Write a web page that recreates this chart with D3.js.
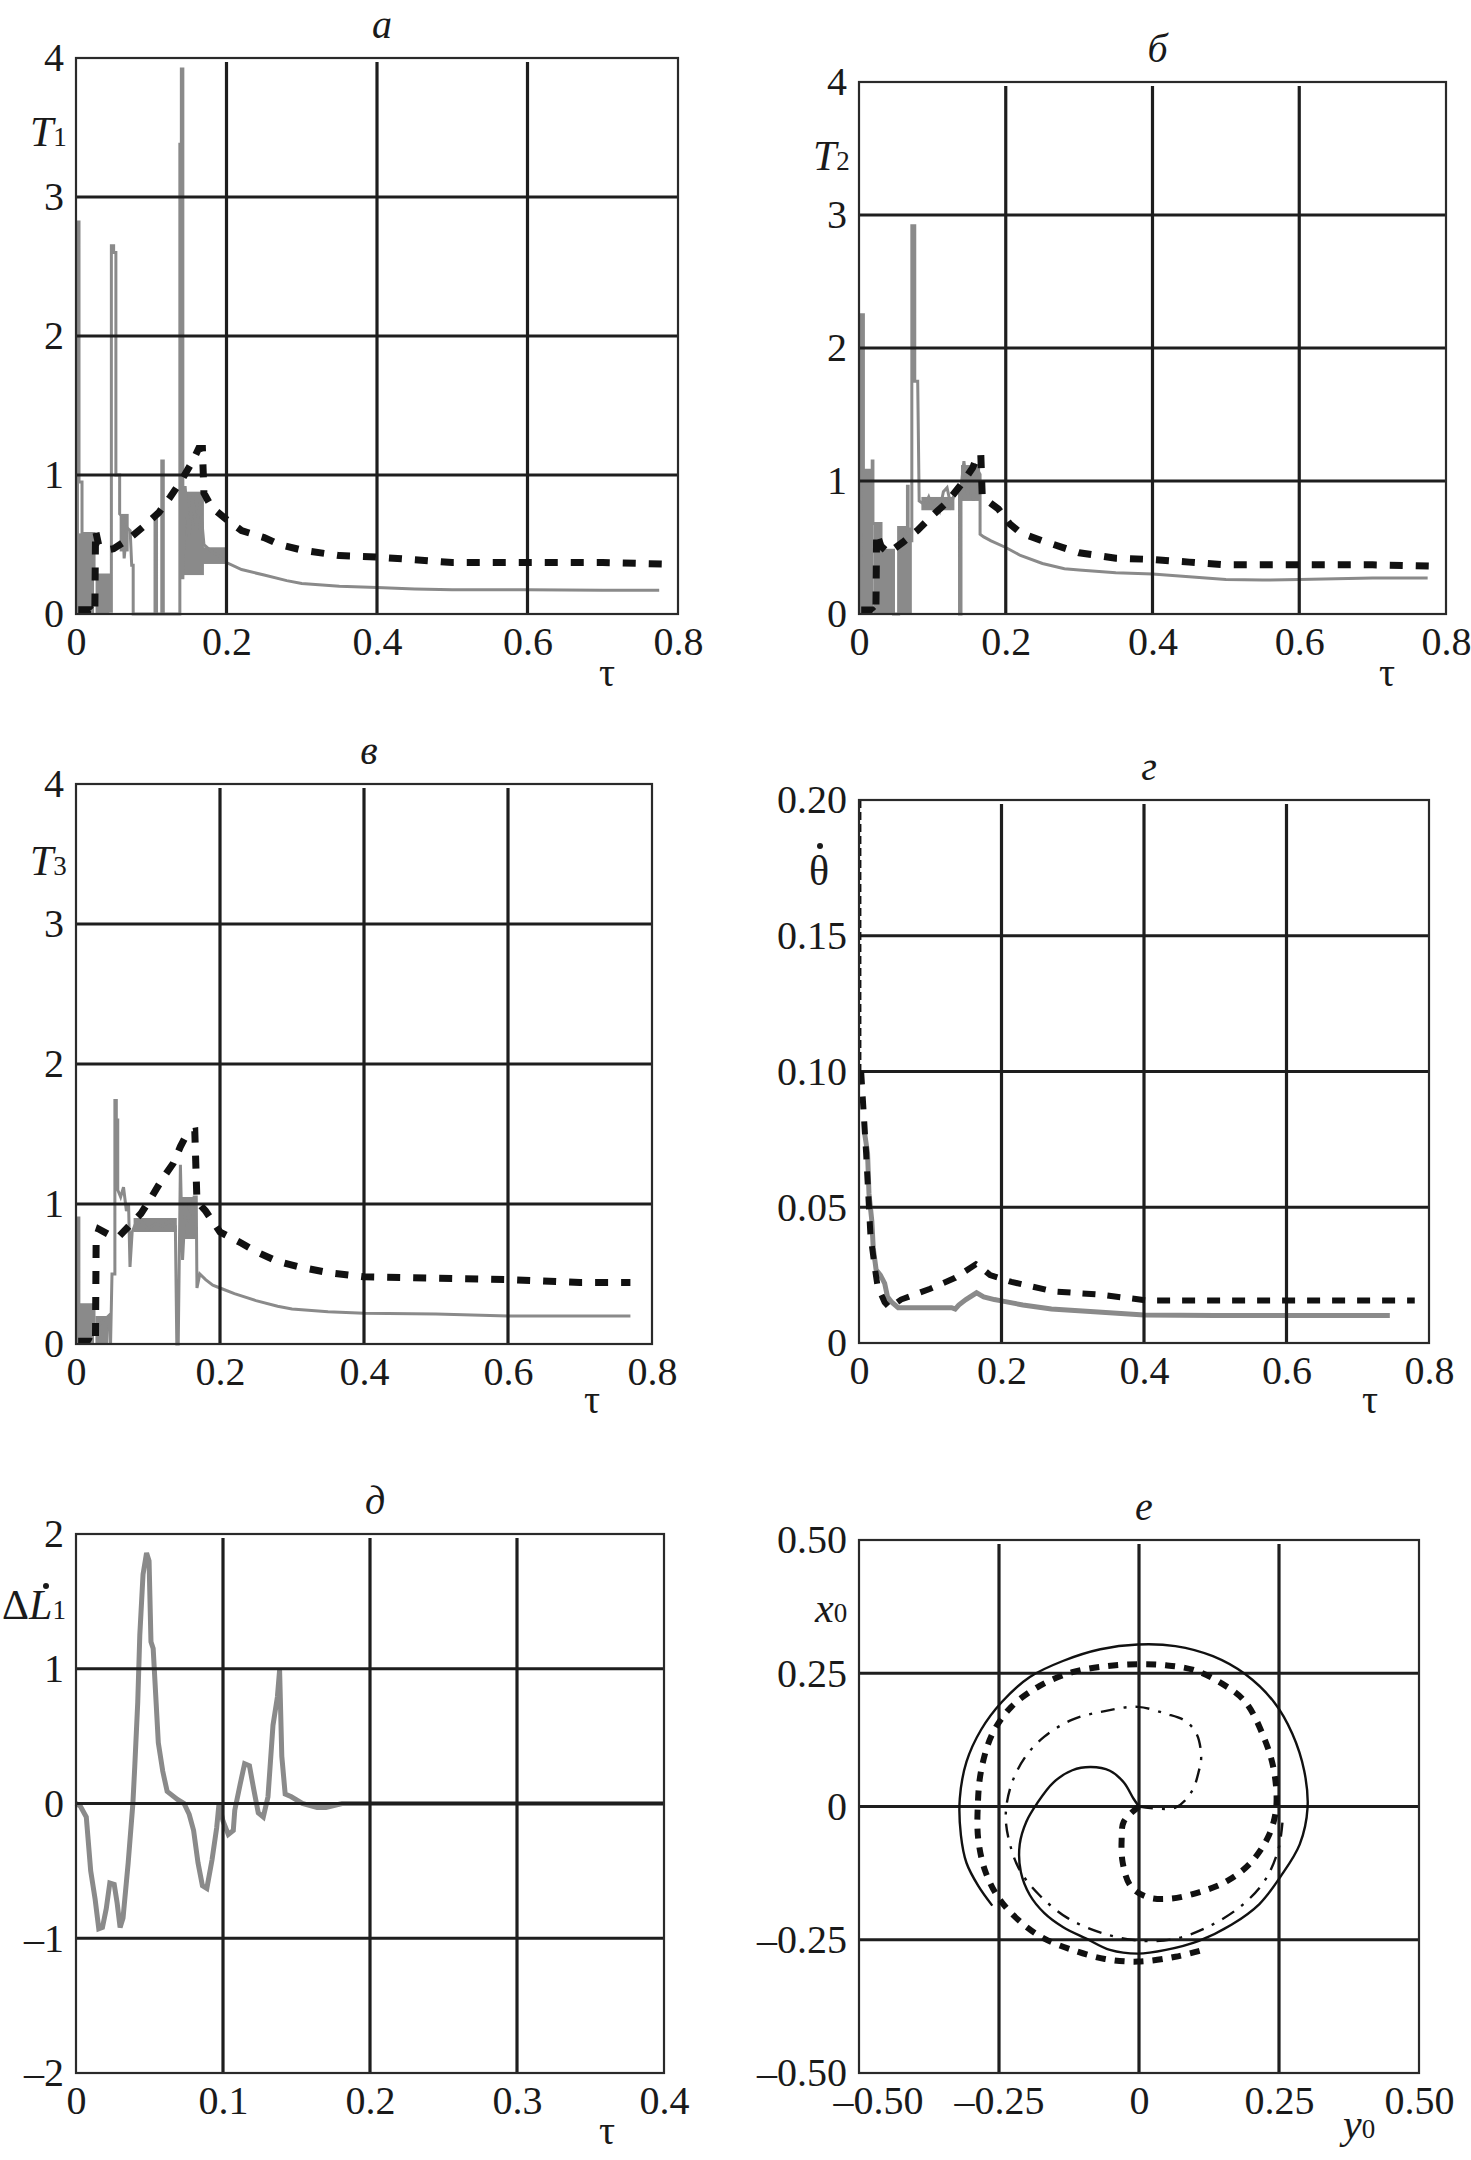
<!DOCTYPE html>
<html>
<head>
<meta charset="utf-8">
<style>
  body { margin: 0; background: #fff; }
  text { font-family: "Liberation Serif", "DejaVu Serif", serif; fill: #1a1a1a; }
</style>
</head>
<body>
<svg width="1471" height="2160"></svg>
<script src="https://d3js.org/d3.v7.min.js"></script>
<script>

// ---- data ----

var tauTicks = [0, 0.2, 0.4, 0.6, 0.8],
    tauTicksShort = [0, 0.1, 0.2, 0.3, 0.4],
    tTicks = [0, 1, 2, 3, 4],
    thetaTicks = [0, 0.05, 0.10, 0.15, 0.20],
    dlTicks = [-2, -1, 0, 1, 2],
    xyTicks = [-0.5, -0.25, 0, 0.25, 0.5];

// panel a : T1
var t1Gray = [[0.002,0],[0.002,2.82],[0.004,2.82],[0.004,0.95],[0.008,0.95],[0.008,0.58],[0.024,0.58],[0.024,0.28],[0.044,0.28],[0.044,0.02],[0.047,0.02],[0.047,2.65],[0.05,2.65],[0.05,2.6],[0.053,2.6],[0.053,1.0],[0.058,1.0],[0.058,0.72],[0.062,0.7],[0.064,0.4],[0.068,0.62],[0.072,0.6],[0.074,0.35],[0.076,0.35],[0.076,0],[0.105,0],[0.105,0.7],[0.107,0.7],[0.107,0],[0.114,0],[0.114,1.1],[0.116,1.1],[0.116,0],[0.138,0],[0.138,3.38],[0.14,3.38],[0.14,3.92],[0.142,3.92],[0.142,0.25],[0.145,0.92],[0.15,0.55],[0.155,0.85],[0.16,0.6],[0.165,0.8],[0.17,0.5],[0.18,0.45],[0.19,0.42],[0.2,0.37],[0.22,0.32],[0.25,0.28],[0.28,0.24],[0.3,0.22],[0.35,0.2],[0.4,0.19],[0.45,0.18],[0.5,0.175],[0.6,0.175],[0.7,0.17],[0.775,0.17]];
var t1Bands = [[0.001,0.024,0,0.58],[0.026,0.044,0,0.28],[0.058,0.07,0.45,0.72],[0.142,0.17,0.28,0.88],[0.168,0.2,0.36,0.48]];
var t1Dash = [[0.003,0.03],[0.02,0.03],[0.025,0],[0.026,0.6],[0.03,0.5],[0.04,0.46],[0.05,0.47],[0.07,0.54],[0.09,0.63],[0.11,0.73],[0.125,0.84],[0.14,0.96],[0.155,1.1],[0.163,1.19],[0.168,1.19],[0.17,0.87],[0.18,0.77],[0.2,0.68],[0.22,0.6],[0.25,0.55],[0.27,0.5],[0.3,0.46],[0.35,0.42],[0.4,0.41],[0.45,0.39],[0.5,0.37],[0.6,0.37],[0.7,0.37],[0.78,0.36]];

// panel b : T2
var t2Gray = [[0.003,0],[0.003,2.25],[0.006,2.25],[0.006,1.08],[0.018,1.08],[0.018,1.15],[0.019,1.15],[0.019,0.68],[0.03,0.68],[0.03,0.48],[0.047,0.48],[0.047,0],[0.054,0],[0.054,0.65],[0.066,0.65],[0.066,0.96],[0.067,0.96],[0.067,0.55],[0.072,0.55],[0.072,2.92],[0.076,2.92],[0.076,1.75],[0.08,1.75],[0.082,0.85],[0.09,0.82],[0.095,0.88],[0.1,0.8],[0.105,0.85],[0.11,0.78],[0.115,0.92],[0.12,0.95],[0.125,0.82],[0.13,0.9],[0.135,0.92],[0.137,0.9],[0.137,0],[0.139,0],[0.139,0.95],[0.143,1.15],[0.148,0.9],[0.152,1.1],[0.156,0.85],[0.16,1.1],[0.165,1.05],[0.165,0.6],[0.17,0.58],[0.18,0.55],[0.2,0.5],[0.22,0.44],[0.25,0.38],[0.28,0.34],[0.3,0.33],[0.35,0.31],[0.4,0.3],[0.45,0.28],[0.5,0.26],[0.55,0.255],[0.6,0.26],[0.7,0.27],[0.775,0.27]];
var t2Bands = [[0.001,0.02,0,1.08],[0.02,0.03,0,0.68],[0.03,0.047,0,0.48],[0.054,0.072,0,0.65],[0.085,0.13,0.78,0.88],[0.139,0.165,0.85,1.12]];
var t2Dash = [[0.003,0.03],[0.018,0.03],[0.023,0],[0.024,0.61],[0.03,0.51],[0.04,0.46],[0.06,0.54],[0.08,0.63],[0.1,0.74],[0.12,0.84],[0.14,0.98],[0.155,1.1],[0.162,1.2],[0.166,1.2],[0.168,0.88],[0.19,0.79],[0.205,0.68],[0.22,0.61],[0.25,0.55],[0.3,0.46],[0.35,0.42],[0.4,0.41],[0.45,0.39],[0.5,0.37],[0.6,0.37],[0.7,0.37],[0.78,0.36]];

// panel в : T3
var t3Gray = [[0.002,0],[0.002,0.9],[0.004,0.9],[0.004,0.28],[0.025,0.28],[0.025,0.1],[0.045,0.2],[0.048,0],[0.05,0.5],[0.054,0.5],[0.054,1.74],[0.056,1.74],[0.056,1.6],[0.058,1.6],[0.058,1.1],[0.062,1.05],[0.066,1.12],[0.07,0.95],[0.073,1.0],[0.075,0.55],[0.078,0.8],[0.082,0.85],[0.09,0.88],[0.1,0.82],[0.11,0.86],[0.12,0.84],[0.13,0.88],[0.138,0.84],[0.14,0],[0.142,0],[0.145,1.28],[0.148,0.6],[0.152,1.0],[0.156,0.9],[0.16,0.95],[0.164,1.05],[0.167,1.05],[0.168,0.4],[0.172,0.5],[0.18,0.46],[0.19,0.42],[0.2,0.4],[0.22,0.36],[0.25,0.31],[0.28,0.27],[0.3,0.25],[0.35,0.23],[0.4,0.22],[0.5,0.215],[0.6,0.2],[0.7,0.2],[0.77,0.2]];
var t3Bands = [[0.001,0.025,0,0.28],[0.027,0.045,0,0.2],[0.08,0.14,0.8,0.9],[0.145,0.168,0.75,1.05]];
var t3Dash = [[0.003,0.02],[0.02,0.02],[0.027,0],[0.028,0.76],[0.032,0.82],[0.05,0.77],[0.06,0.77],[0.075,0.85],[0.09,0.93],[0.105,1.05],[0.12,1.18],[0.135,1.29],[0.145,1.41],[0.155,1.51],[0.165,1.52],[0.168,1.02],[0.18,0.95],[0.2,0.8],[0.23,0.72],[0.25,0.66],[0.28,0.59],[0.31,0.55],[0.35,0.51],[0.4,0.48],[0.5,0.47],[0.6,0.46],[0.7,0.44],[0.77,0.44]];

// panel г : theta dot
var thGray = [[0.008,0.077],[0.012,0.07],[0.014,0.055],[0.018,0.045],[0.02,0.035],[0.024,0.027],[0.03,0.025],[0.036,0.022],[0.04,0.017],[0.046,0.015],[0.055,0.013],[0.1,0.013],[0.13,0.013],[0.135,0.0125],[0.14,0.014],[0.15,0.016],[0.165,0.0185],[0.175,0.017],[0.19,0.016],[0.2,0.0155],[0.23,0.014],[0.27,0.0125],[0.33,0.0115],[0.4,0.0103],[0.5,0.0101],[0.6,0.0101],[0.745,0.0101]];
var thDashTop = [[0.002,0.2],[0.002,0.1]];
var thDash = [[0.003,0.1],[0.01,0.07],[0.016,0.04],[0.022,0.028],[0.026,0.021],[0.036,0.015],[0.043,0.013],[0.059,0.016],[0.1,0.02],[0.135,0.024],[0.164,0.029],[0.175,0.027],[0.184,0.025],[0.214,0.0225],[0.273,0.019],[0.338,0.0178],[0.404,0.0157],[0.5,0.0157],[0.6,0.0157],[0.78,0.0157]];

// panel д : delta L1 dot
var dlGray = [[0,0],[0.003,-0.02],[0.007,-0.1],[0.01,-0.5],[0.013,-0.71],[0.0155,-0.93],[0.018,-0.92],[0.0206,-0.78],[0.023,-0.59],[0.026,-0.6],[0.028,-0.74],[0.03,-0.92],[0.032,-0.85],[0.0355,-0.44],[0.0387,0],[0.04,0.28],[0.042,0.75],[0.0434,1.25],[0.0456,1.7],[0.048,1.86],[0.0497,1.8],[0.051,1.2],[0.0525,1.15],[0.056,0.45],[0.059,0.24],[0.062,0.09],[0.069,0.03],[0.0735,0],[0.077,-0.08],[0.08,-0.2],[0.083,-0.44],[0.086,-0.61],[0.089,-0.63],[0.0925,-0.42],[0.0957,-0.18],[0.0973,0],[0.1,-0.13],[0.1036,-0.23],[0.107,-0.2],[0.108,-0.05],[0.1116,0.14],[0.1147,0.295],[0.118,0.28],[0.121,0.1],[0.124,-0.07],[0.1274,-0.1],[0.1306,0.05],[0.134,0.58],[0.137,0.79],[0.1385,0.99],[0.14,0.35],[0.1423,0.07],[0.1465,0.05],[0.154,0],[0.164,-0.03],[0.17,-0.03],[0.181,0],[0.4,0]];

// panel е : trajectories (y0, x0)
var orbitSolid = [[0,0],[-0.010,0.015],[-0.027,0.045],[-0.052,0.067],[-0.086,0.074],[-0.119,0.068],[-0.153,0.045],[-0.182,0.006],[-0.201,-0.028],[-0.213,-0.071],[-0.211,-0.123],[-0.195,-0.166],[-0.169,-0.200],[-0.136,-0.226],[-0.094,-0.248],[-0.052,-0.269],[-0.002,-0.276],[0.048,-0.269],[0.107,-0.252],[0.165,-0.222],[0.215,-0.183],[0.253,-0.131],[0.287,-0.071],[0.301,-0.002],[0.295,0.067],[0.274,0.136],[0.241,0.196],[0.190,0.248],[0.132,0.282],[0.065,0.301],[-0.002,0.304],[-0.069,0.295],[-0.136,0.273],[-0.195,0.243],[-0.245,0.196],[-0.282,0.144],[-0.308,0.084],[-0.320,0.015],[-0.318,-0.054],[-0.308,-0.106],[-0.287,-0.149],[-0.262,-0.186]];
var orbitDash = [[0,0],[-0.027,-0.028],[-0.031,-0.062],[-0.029,-0.106],[-0.015,-0.149],[0.015,-0.170],[0.056,-0.173],[0.107,-0.161],[0.157,-0.140],[0.199,-0.106],[0.232,-0.054],[0.245,-0.002],[0.241,0.067],[0.224,0.127],[0.190,0.196],[0.149,0.230],[0.098,0.256],[0.048,0.265],[-0.002,0.267],[-0.061,0.263],[-0.119,0.252],[-0.178,0.226],[-0.228,0.187],[-0.262,0.136],[-0.282,0.067],[-0.288,-0.002],[-0.287,-0.062],[-0.274,-0.123],[-0.249,-0.174],[-0.211,-0.217],[-0.169,-0.248],[-0.119,-0.269],[-0.061,-0.286],[-0.002,-0.291],[0.065,-0.282],[0.115,-0.269]];
var orbitDashDot = [[0,0],[0.065,-0.002],[0.094,0.028],[0.107,0.067],[0.111,0.093],[0.103,0.136],[0.082,0.161],[0.048,0.174],[-0.002,0.187],[-0.061,0.179],[-0.119,0.163],[-0.169,0.131],[-0.203,0.093],[-0.228,0.041],[-0.238,-0.019],[-0.228,-0.080],[-0.211,-0.123],[-0.178,-0.166],[-0.128,-0.209],[-0.061,-0.239],[0.006,-0.252],[0.065,-0.248],[0.123,-0.226],[0.182,-0.187],[0.224,-0.140],[0.249,-0.080],[0.257,-0.019]];

// ---- drawing ----

var svg = d3.select("svg"),
    GRAY = "#8a8a8a",
    INK = "#1e1e1e",
    FS = 40;

function fmtNum(d) {
  if (d === 0) return "0";
  var s = Math.abs(d).toString();
  return (d < 0 ? "\u2013" : "") + s;
}
function fmt2(d) {
  if (d === 0) return "0";
  return (d < 0 ? "\u2013" : "") + Math.abs(d).toFixed(2);
}

function panel(p) {
  var x = d3.scaleLinear().domain(p.xDomain).range([p.left, p.right]),
      y = d3.scaleLinear().domain(p.yDomain).range([p.bottom, p.top]),
      g = svg.append("g");

  var line = d3.line().x(function(d) { return x(d[0]); }).y(function(d) { return y(d[1]); });

  // noisy gray envelopes and curves
  (p.bands || []).forEach(function(b) {
    g.append("rect")
      .attr("x", x(b[0])).attr("width", x(b[1]) - x(b[0]))
      .attr("y", y(b[3])).attr("height", y(b[2]) - y(b[3]))
      .attr("fill", GRAY);
  });
  if (p.gray) {
    g.append("path").datum(p.gray).attr("d", line)
      .attr("fill", "none").attr("stroke", GRAY)
      .attr("stroke-width", p.grayWidth || 3).attr("stroke-linejoin", "miter");
  }

  // grid
  g.selectAll(".vg").data(p.xTicks.slice(1, -1)).enter().append("line")
    .attr("x1", function(d) { return x(d); }).attr("x2", function(d) { return x(d); })
    .attr("y1", p.top + 4).attr("y2", p.bottom)
    .attr("stroke", INK).attr("stroke-width", 3.2);
  g.selectAll(".hg").data(p.yTicks.slice(1, -1)).enter().append("line")
    .attr("x1", p.left).attr("x2", p.right)
    .attr("y1", function(d) { return y(d); }).attr("y2", function(d) { return y(d); })
    .attr("stroke", INK).attr("stroke-width", 2.8);

  // curves on top of grid
  (p.curves || []).forEach(function(c) {
    var l = d3.line().x(function(d) { return x(d[0]); }).y(function(d) { return y(d[1]); });
    if (c.smooth) l.curve(d3.curveCatmullRom.alpha(0.5));
    g.append("path").datum(c.data).attr("d", l)
      .attr("fill", "none").attr("stroke", c.color || "#111")
      .attr("stroke-width", c.width).attr("stroke-dasharray", c.dash || null);
  });

  // frame
  g.append("rect").attr("x", p.left).attr("y", p.top)
    .attr("width", p.right - p.left).attr("height", p.bottom - p.top)
    .attr("fill", "none").attr("stroke", "#2a2a2a").attr("stroke-width", 2.2);

  // axes (labels only)
  var ax = g.append("g").attr("transform", "translate(0," + p.bottom + ")")
    .call(d3.axisBottom(x).tickValues(p.xTicks).tickFormat(p.xFmt).tickSize(0).tickPadding(13));
  var ay = g.append("g").attr("transform", "translate(" + p.left + ",0)")
    .call(d3.axisLeft(y).tickValues(p.yTicks).tickFormat(p.yFmt).tickSize(0).tickPadding(12));
  [ax, ay].forEach(function(a) {
    a.select(".domain").remove();
    a.selectAll("text").attr("font-size", FS).attr("font-family", "Liberation Serif, serif").attr("fill", "#1a1a1a");
  });
  if (p.firstXStart) {
    // first x label sits to the right of the corner, clear of the y label
    ax.select(".tick text").attr("text-anchor", "start").attr("dx", -26);
  }

  // panel letter
  g.append("text").attr("x", (p.left + p.right) / 2 + 5).attr("y", p.top - 20)
    .attr("text-anchor", "middle").attr("font-size", 40).attr("font-style", "italic").text(p.title);

  return {x: x, y: y, g: g};
}

function tau(g, cx, by) {
  g.append("text").attr("x", cx).attr("y", by).attr("text-anchor", "middle")
    .attr("font-size", FS).text("\u03c4");
}
function subLabel(g, xx, by, main, sub, italic) {
  var t = g.append("text").attr("x", xx).attr("y", by).attr("font-size", 42);
  t.append("tspan").attr("font-style", italic ? "italic" : "normal").text(main);
  t.append("tspan").attr("font-size", 27).text(sub);
  return t;
}

var tFmt = function(d) { return d.toString(); };

// a
var pa = panel({title: "а", left: 76, right: 678, top: 58, bottom: 614,
  xDomain: [0, 0.8], yDomain: [0, 4], xTicks: tauTicks, yTicks: tTicks,
  xFmt: fmtNum, yFmt: tFmt, gray: t1Gray, bands: t1Bands,
  curves: [{data: t1Dash, width: 7, dash: "13,13"}]});
tau(pa.g, 607, 686);
subLabel(pa.g, 30, 146, "T", "1", true);

// b
var pb = panel({title: "б", left: 859, right: 1446, top: 82, bottom: 614,
  xDomain: [0, 0.8], yDomain: [0, 4], xTicks: tauTicks, yTicks: tTicks,
  xFmt: fmtNum, yFmt: tFmt, gray: t2Gray, bands: t2Bands,
  curves: [{data: t2Dash, width: 7, dash: "13,13"}]});
tau(pb.g, 1387, 686);
subLabel(pb.g, 813, 170, "T", "2", true);

// в
var pv = panel({title: "в", left: 76, right: 652, top: 784, bottom: 1344,
  xDomain: [0, 0.8], yDomain: [0, 4], xTicks: tauTicks, yTicks: tTicks,
  xFmt: fmtNum, yFmt: tFmt, gray: t3Gray, bands: t3Bands,
  curves: [{data: t3Dash, width: 7, dash: "13,13"}]});
tau(pv.g, 592, 1413);
subLabel(pv.g, 30, 875, "T", "3", true);

// г
var pg = panel({title: "г", left: 859, right: 1429, top: 800, bottom: 1343,
  xDomain: [0, 0.8], yDomain: [0, 0.2], xTicks: tauTicks, yTicks: thetaTicks,
  xFmt: fmtNum, yFmt: fmt2, gray: thGray, grayWidth: 5,
  curves: [{data: thDashTop, width: 2, dash: "8,4"}, {data: thDash, width: 6, dash: "13,12"}]});
tau(pg.g, 1370, 1413);
pg.g.append("text").attr("x", 819).attr("y", 885).attr("text-anchor", "middle")
  .attr("font-size", 42).text("\u03b8");
pg.g.append("circle").attr("cx", 820).attr("cy", 846).attr("r", 3).attr("fill", "#1a1a1a");

// д
var pd = panel({title: "д", left: 76, right: 664, top: 1534, bottom: 2073,
  xDomain: [0, 0.4], yDomain: [-2, 2], xTicks: tauTicksShort, yTicks: dlTicks,
  xFmt: fmtNum, yFmt: fmtNum, gray: dlGray, grayWidth: 5});
tau(pd.g, 607, 2144);
var dl = pd.g.append("text").attr("x", 2).attr("y", 1619).attr("font-size", 42);
dl.append("tspan").text("\u0394");
dl.append("tspan").attr("font-style", "italic").text("L");
dl.append("tspan").attr("font-size", 27).text("1");
pd.g.append("circle").attr("cx", 46).attr("cy", 1586).attr("r", 3).attr("fill", "#1a1a1a");

// е
var pe = panel({title: "е", left: 859, right: 1419, top: 1540, bottom: 2073,
  xDomain: [-0.5, 0.5], yDomain: [-0.5, 0.5], xTicks: xyTicks, yTicks: xyTicks,
  xFmt: fmt2, yFmt: fmt2, firstXStart: true,
  curves: [
    {data: orbitSolid, width: 2.4, smooth: true},
    {data: orbitDash, width: 6, dash: "10,9", smooth: true},
    {data: orbitDashDot, width: 2.4, dash: "14,9,3,9", smooth: true}
  ]});
subLabel(pe.g, 815, 1622, "x", "0", true);
subLabel(pe.g, 1343, 2138, "y", "0", true);

</script>
</body>
</html>
